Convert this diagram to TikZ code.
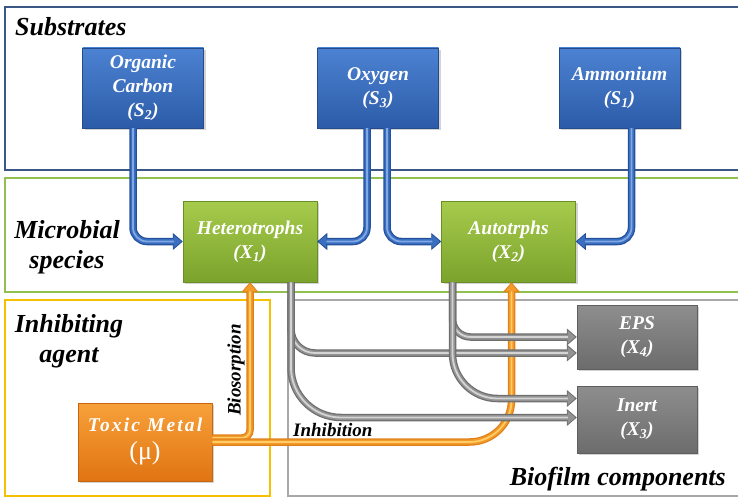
\documentclass[tikz,border=0pt]{standalone}
\usepackage{fontspec}
\setmainfont{Liberation Serif}
\newfontfamily\tmfont[LetterSpace=11]{Liberation Serif}
\usetikzlibrary{arrows.meta,calc,shadows}
\definecolor{frameblue}{HTML}{3B5786}
\definecolor{framegreen}{HTML}{92C050}
\definecolor{frameyellow}{HTML}{F5C000}
\definecolor{framegray}{HTML}{A8A8A8}
\definecolor{blueT}{HTML}{4C82D2}
\definecolor{blueB}{HTML}{2C5CA8}
\definecolor{bluebd}{HTML}{244C8C}
\definecolor{greenT}{HTML}{A6CB4C}
\definecolor{greenB}{HTML}{7BA22C}
\definecolor{greenbd}{HTML}{6A8F25}
\definecolor{grayT}{HTML}{8E8E8E}
\definecolor{grayB}{HTML}{6C6C6C}
\definecolor{graybd}{HTML}{5E5E5E}
\definecolor{orangeT}{HTML}{F7A13A}
\definecolor{orangeB}{HTML}{E07412}
\definecolor{orangebd}{HTML}{C8650E}
\definecolor{tubeblueD}{HTML}{24509A}
\definecolor{tubeblueM}{HTML}{3A6EC0}
\definecolor{tubeblueL}{HTML}{7FA8E4}
\definecolor{tubegrayD}{HTML}{6E6E6E}
\definecolor{tubegrayM}{HTML}{939393}
\definecolor{tubegrayL}{HTML}{D4D4D4}
\definecolor{tubeorD}{HTML}{E0801A}
\definecolor{tubeorM}{HTML}{F29A2A}
\definecolor{tubeorL}{HTML}{FFCD66}
\begin{document}
\begin{tikzpicture}[x=1pt,y=-1pt,
  hd/.style={font=\fontsize{26}{30}\selectfont\bfseries\itshape, text=black, inner sep=0pt, align=center},
  box/.style={rectangle, inner sep=0pt, align=center, text=white,
    font=\fontsize{19.5}{24}\selectfont\bfseries\itshape, line width=0.5pt,
    drop shadow={opacity=0.35,shadow xshift=2pt,shadow yshift=-2pt}},
  bbox/.style={box, draw=bluebd, top color=blueT, bottom color=blueB, minimum width=121pt, minimum height=80pt},
  gbox/.style={box, draw=greenbd, top color=greenT, bottom color=greenB, minimum width=134pt, minimum height=81pt},
  ybox/.style={box, draw=graybd, top color=grayT, bottom color=grayB, minimum width=120pt},
  obox/.style={box, draw=orangebd, top color=orangeT, bottom color=orangeB, minimum width=134pt, minimum height=78pt},
  frame/.style={line width=2.2pt},
  tube/.style n args={4}{draw=#1, line width=7.5pt, rounded corners=#4,
    -{Triangle[length=10pt,width=17pt,line width=0.8pt,fill=#2]},
    postaction={draw=#2, line width=5pt, -, shorten >=9pt},
    postaction={draw=#3, line width=1.8pt, -, shorten >=9pt}},
  lbl/.style={font=\fontsize{19}{22}\selectfont\bfseries\itshape, inner sep=0pt}
]
\useasboundingbox (0,0) rectangle (738,497);
% frames
\draw[frame, draw=frameblue] (5,7) rectangle (748,170);
\draw[frame, draw=framegreen] (5,178) rectangle (748,292);
\draw[frame, draw=frameyellow] (5,300) rectangle (270,496);
\draw[frame, draw=framegray] (288,300) rectangle (748,496);
% headings
\node[hd, anchor=base west] (hsub) at (15,36) {Substrates};
\node[hd] (hmic) at (67,247) {Microbial\\species};
\node[hd] (hinh) at (69,341) {Inhibiting\\agent};
\node[hd, anchor=base east] (hbio) at (726,485) {Biofilm components};
% boxes
\node[bbox] (oc) at (143,88) {Organic\\Carbon\\(S\textsubscript{2})};
\node[bbox] (ox) at (378,88) {Oxygen\\(S\textsubscript{3})};
\node[bbox] (am) at (619.5,88) {Ammonium\\(S\textsubscript{1})};
\node[gbox] (het) at (250,241.5) {Heterotrophs\\(X\textsubscript{1})};
\node[gbox] (aut) at (508.5,241.5) {Autotrphs\\(X\textsubscript{2})};
\node[ybox, minimum height=64pt] (eps) at (637,337) {EPS\\(X\textsubscript{4})};
\node[ybox, minimum height=67pt] (inert) at (637,419.5) {Inert\\(X\textsubscript{3})};
\node[obox] (tm) at (145,442) {{\tmfont\bfseries\itshape Toxic Metal}\\[4pt]{\fontsize{26}{26}\selectfont\mdseries\upshape (μ)}};
% blue connectors
\draw[tube={tubeblueD}{tubeblueM}{tubeblueL}{14pt}] ($(oc.south)+(-10,0)$) |- (het.west);
\draw[tube={tubeblueD}{tubeblueM}{tubeblueL}{14pt}] ($(ox.south)+(-11,0)$) |- (het.east);
\draw[tube={tubeblueD}{tubeblueM}{tubeblueL}{14pt}] ($(ox.south)+(9,0)$) |- (aut.west);
\draw[tube={tubeblueD}{tubeblueM}{tubeblueL}{14pt}] ($(am.south)+(12,0)$) |- (aut.east);
% orange connectors
\draw[tube={tubeorD}{tubeorM}{tubeorL}{8pt}] ($(tm.east)+(0,-4)$) -| (het.south);
\draw[tube={tubeorD}{tubeorM}{tubeorL}{42pt}] (tm.east) -| ($(aut.south)+(3,0)$);
% gray connectors
\draw[tube={tubegrayD}{tubegrayM}{tubegrayL}{24pt}] ($(het.south)+(41,0)$) |- ($(eps.west)+(0,16)$);
\draw[tube={tubegrayD}{tubegrayM}{tubegrayL}{50pt}] ($(het.south)+(41,0)$) |- ($(inert.west)+(0,-2)$);
\draw[tube={tubegrayD}{tubegrayM}{tubegrayL}{18pt}] ($(aut.south)+(-56,0)$) |- (eps.west);
\draw[tube={tubegrayD}{tubegrayM}{tubegrayL}{45pt}] ($(aut.south)+(-56,0)$) |- ($(inert.west)+(0,-21)$);
% labels
\node[lbl, anchor=base west] (linh) at (293,436) {Inhibition};
\node[lbl, rotate=90] (lbio) at (236,370) {Biosorption};
\end{tikzpicture}
\end{document}
